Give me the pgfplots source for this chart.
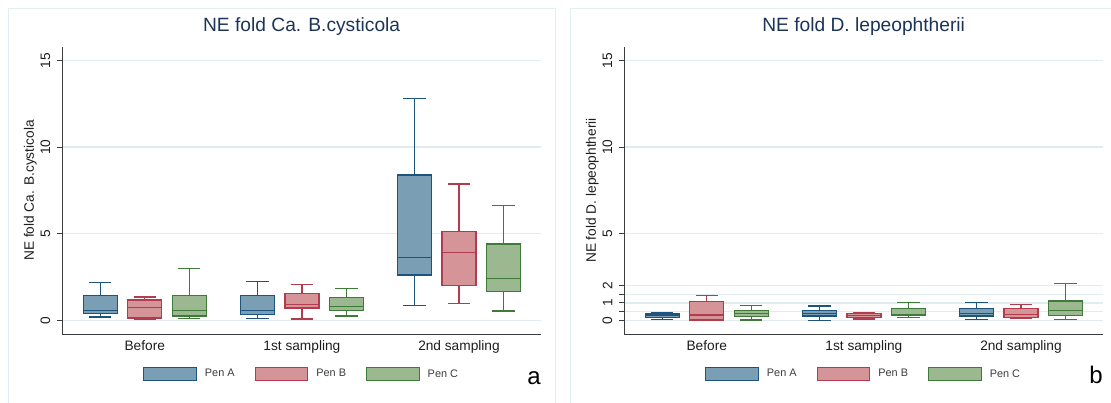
\documentclass[border=0pt]{standalone}
\usepackage{fontspec}
\setmainfont{Liberation Sans}
\usepackage{pgfplots}
\pgfplotsset{compat=1.18}
\usepgfplotslibrary{statistics}
\definecolor{Afill}{RGB}{122,159,180}
\definecolor{Aline}{RGB}{28,84,125}
\definecolor{Bfill}{RGB}{212,148,152}
\definecolor{Bline}{RGB}{178,60,78}
\definecolor{Cfill}{RGB}{155,184,145}
\definecolor{Cline}{RGB}{62,122,56}
\definecolor{titlecol}{RGB}{28,52,88}
\definecolor{gridcol}{RGB}{224,236,240}
\definecolor{framecol}{RGB}{226,238,240}
\definecolor{axisgray}{RGB}{60,60,60}
\definecolor{labcol}{RGB}{30,30,30}
\definecolor{legcol}{RGB}{60,60,60}
\newcommand{\bx}[7]{\addplot[forget plot, solid, draw=#7line, fill=#7fill, line width=1.3pt,
  boxplot/draw direction=y,
  boxplot prepared={draw position=#1, lower whisker=#2, lower quartile=#3, median=#4,
  upper quartile=#5, upper whisker=#6, box extend=0.216, whisker extend=0.142}] coordinates {};}
\pgfplotsset{
  panel/.style={
    scale only axis, width=478.7pt, height=287.6pt, anchor=south west,
    xmin=0.475, xmax=3.522, ymin=-0.81, ymax=15.79,
    axis lines*=left, axis line style={draw=axisgray, line width=1pt},
    xtick={1,2,3}, xticklabels={Before,1st sampling,2nd sampling},
    x tick style={draw=none}, major tick length=5pt, tick align=outside,
    y tick style={draw=axisgray, line width=1pt},
    ymajorgrids, grid style={draw=gridcol, line width=1.2pt},
    /pgf/number format/assume math mode=true,
    xticklabel style={font=\fontsize{13.7}{16}\selectfont, inner sep=0pt, anchor=north, yshift=-0.7pt, text=labcol},
    yticklabel style={font=\fontsize{13.7}{16}\selectfont, rotate=90, anchor=south, inner sep=0pt, text=labcol},
    yticklabel shift=6.8pt,
    ylabel style={at={(axis description cs:-0.0666,0.5)}, anchor=center, font=\fontsize{13.7}{16}\selectfont, text=labcol},
    title style={at={(axis description cs:0.5,1)}, anchor=base, yshift=9pt, font=\fontsize{19.2}{22}\selectfont, text=titlecol},
    legend style={at={(0.5,-0.138)}, anchor=center, draw=none, fill=none, legend columns=3,
      font=\fontsize{10.9}{13}\selectfont, text=legcol,
      /tikz/every odd column/.append style={column sep=6pt},
      /tikz/every even column/.append style={column sep=18pt}},
    legend image code/.code={\draw[#1, line width=1pt] (0pt,-6.85pt) rectangle (52.7pt,6.85pt);},
  }
}
\begin{document}
\begin{tikzpicture}
\path[use as bounding box] (0,0) rectangle (1111pt,403pt);
\draw[framecol, line width=1pt] (8.3pt,-5pt) -- (8.3pt,394.7pt) -- (555pt,394.7pt) -- (555pt,-5pt);
\draw[framecol, line width=1pt] (570.7pt,-5pt) -- (570.7pt,394.7pt) -- (1120pt,394.7pt);
% ---------- panel a ----------
\begin{axis}[panel, at={(62.3pt,68.7pt)},
  ytick={0,5,10,15}, yticklabels={0,5,10,15},
  title={NE fold Ca. B.cysticola}, ylabel={NE fold Ca. B.cysticola}]
\addlegendimage{draw=Aline, fill=Afill}\addlegendentry{Pen A}
\addlegendimage{draw=Bline, fill=Bfill}\addlegendentry{Pen B}
\addlegendimage{draw=Cline, fill=Cfill}\addlegendentry{Pen C}
\bx{0.717}{0.19}{0.40}{0.55}{1.44}{2.17}{A}
\bx{1.000}{0.06}{0.13}{0.73}{1.17}{1.34}{B}
\bx{1.283}{0.11}{0.25}{0.58}{1.42}{3.00}{C}
\bx{1.717}{0.09}{0.35}{0.55}{1.42}{2.23}{A}
\bx{2.000}{0.07}{0.71}{0.90}{1.54}{2.05}{B}
\bx{2.283}{0.25}{0.58}{0.79}{1.31}{1.82}{C}
\bx{2.717}{0.84}{2.61}{3.61}{8.39}{12.79}{A}
\bx{3.000}{0.98}{2.02}{3.90}{5.13}{7.86}{B}
\bx{3.283}{0.54}{1.67}{2.40}{4.40}{6.61}{C}
\end{axis}
% ---------- panel b ----------
\begin{axis}[panel, at={(624.3pt,68.7pt)},
  ytick={0,0.5,1,1.5,2,5,10,15}, yticklabels={0,{},1,{},2,5,10,15},
  title={NE fold D. lepeophtherii}, ylabel={NE fold D. lepeophtherii}]
\addlegendimage{draw=Aline, fill=Afill}\addlegendentry{Pen A}
\addlegendimage{draw=Bline, fill=Bfill}\addlegendentry{Pen B}
\addlegendimage{draw=Cline, fill=Cfill}\addlegendentry{Pen C}
\bx{0.717}{0.06}{0.17}{0.31}{0.40}{0.46}{A}
\bx{1.000}{0.00}{0.02}{0.31}{1.07}{1.44}{B}
\bx{1.283}{0.02}{0.21}{0.38}{0.56}{0.86}{C}
\bx{1.717}{0.00}{0.25}{0.40}{0.58}{0.82}{A}
\bx{2.000}{0.08}{0.15}{0.27}{0.40}{0.46}{B}
\bx{2.283}{0.15}{0.27}{0.35}{0.69}{1.02}{C}
\bx{2.717}{0.06}{0.25}{0.40}{0.67}{1.04}{A}
\bx{3.000}{0.13}{0.15}{0.33}{0.69}{0.90}{B}
\bx{3.283}{0.04}{0.27}{0.58}{1.11}{2.11}{C}
\end{axis}
\node[anchor=base east, inner sep=0pt, font=\fontsize{24}{28}\selectfont] at (541pt,18.7pt) {a};
\node[anchor=base east, inner sep=0pt, font=\fontsize{24}{28}\selectfont] at (1103pt,19.7pt) {b};
\end{tikzpicture}
\end{document}
